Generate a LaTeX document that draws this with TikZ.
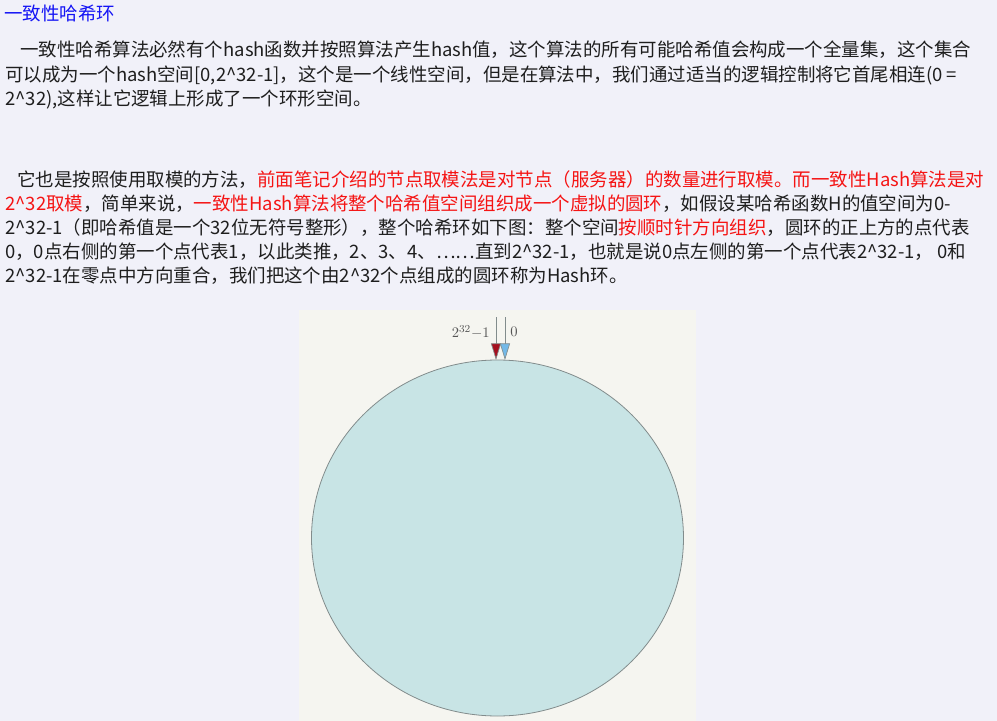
\documentclass[tikz,border=0pt]{standalone}
\usepackage{fontspec}
\setmainfont{Noto Sans CJK SC}
\usepackage{xcolor}
\usetikzlibrary{arrows.meta,shapes.geometric}
\definecolor{PageBg}{RGB}{241,241,249}
\definecolor{PicBg}{RGB}{245,245,240}
\definecolor{RingFill}{RGB}{200,228,229}
\definecolor{RingLine}{RGB}{130,140,140}
\definecolor{Body}{RGB}{30,30,30}
\definecolor{Mark}{RGB}{245,20,20}
\definecolor{Head}{RGB}{20,20,245}
\definecolor{TipRed}{RGB}{165,15,30}
\definecolor{TipBlue}{RGB}{115,185,232}
\definecolor{LabelGray}{RGB}{85,85,85}
\newcommand{\Red}[1]{\textcolor{Mark}{#1}}
\newcommand{\Up}{\textasciicircum}
\tikzset{
  textline/.style={anchor=west,inner sep=0pt,font=\fontsize{13.85pt}{18pt}\selectfont,text=Body},
  pointer/.style={draw=RingLine,line width=0.5pt},
  ringlabel/.style={inner sep=0pt,text=LabelGray,font=\fontsize{11pt}{13pt}\selectfont},
}
\begin{document}
\begin{tikzpicture}[x=0.75pt,y=-0.75pt]
\useasboundingbox[fill=PageBg] (0,0) rectangle (997,721);
% title and first paragraph
\node[textline,text=Head] (title) at (4,13) {一致性哈希环};
\node[textline] (p1a) at (20,50) {一致性哈希算法必然有个hash函数并按照算法产生hash值，这个算法的所有可能哈希值会构成一个全量集，这个集合};
\node[textline] (p1b) at (5,75) {可以成为一个hash空间[0,2\Up32-1]，这个是一个线性空间，但是在算法中，我们通过适当的逻辑控制将它首尾相连(0 =};
\node[textline] (p1c) at (5,99) {2\Up32),这样让它逻辑上形成了一个环形空间。};
% second paragraph
\node[textline] (p2a) at (17,180) {它也是按照使用取模的方法，\Red{前面笔记介绍的节点取模法是对节点（服务器）的数量进行取模。而一致性Hash算法是对}};
\node[textline] (p2b) at (5,204) {\Red{2\Up32取模}，简单来说，\Red{一致性Hash算法将整个哈希值空间组织成一个虚拟的圆环}，如假设某哈希函数H的值空间为0-};
\node[textline] (p2c) at (5,228) {2\Up32-1（即哈希值是一个32位无符号整形），整个哈希环如下图：整个空间\Red{按顺时针方向组织}，圆环的正上方的点代表};
\node[textline] (p2d) at (5,252) {0，0点右侧的第一个点代表1，以此类推，2、3、4、……直到2\Up32-1，也就是说0点左侧的第一个点代表2\Up32-1， 0和};
\node[textline] (p2e) at (5,276) {2\Up32-1在零点中方向重合，我们把这个由2\Up32个点组成的圆环称为Hash环。};
% the ring picture
\fill[PicBg] (299,310) rectangle (696,721);
\node[ellipse,draw=RingLine,fill=RingFill,line width=0.6pt,inner sep=0pt,
  minimum width=279pt,minimum height=267pt] (ring) at (497.5,538) {};
\coordinate (maxtop) at (496,317);
\coordinate (maxtip) at (496,360);
\coordinate (zerotop) at (505,317);
\coordinate (zerotip) at (505,360);
\draw[pointer,-{Triangle[length=12.5pt,width=7.5pt,fill=TipRed]}] (maxtop) -- (maxtip);
\draw[pointer,-{Triangle[length=12.5pt,width=7.5pt,fill=TipBlue]}] (zerotop) -- (zerotip);
\node[ringlabel,anchor=east] (maxlabel) at (490,332) {$2^{32}{-}1$};
\node[ringlabel,anchor=west] (zerolabel) at (510,332) {$0$};
\end{tikzpicture}
\end{document}
